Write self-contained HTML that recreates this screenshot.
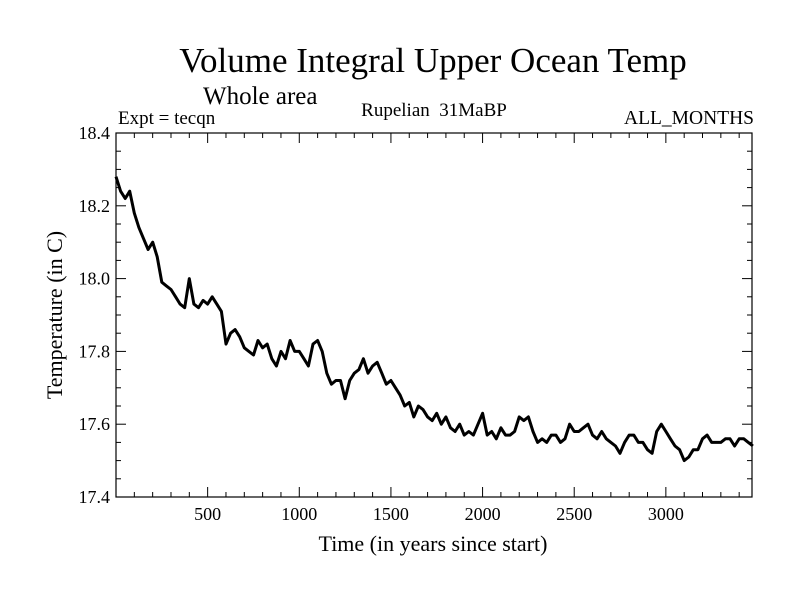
<!DOCTYPE html>
<html><head><meta charset="utf-8"><style>
body{margin:0;background:#fff}
svg{display:block;font-family:"Liberation Serif",serif}
</style></head><body>
<svg id="chart" width="800" height="600" viewBox="0 0 800 600">
<text x="433" y="72" font-size="35" text-anchor="middle">Volume Integral Upper Ocean Temp</text>
<text x="203" y="104" font-size="25">Whole area</text>
<text x="118" y="124" font-size="19">Expt = tecqn</text>
<text x="434" y="116" font-size="19" text-anchor="middle" xml:space="preserve">Rupelian  31MaBP</text>
<text x="754" y="124" font-size="19.5" text-anchor="end">ALL_MONTHS</text>
<text x="433" y="551" font-size="22" text-anchor="middle">Time (in years since start)</text>
<text transform="translate(62,315) rotate(-90)" font-size="22" text-anchor="middle">Temperature (in C)</text>
<g id="axes"></g>
<rect x="116" y="133" width="636" height="364" fill="none" stroke="#000" stroke-width="1.2"/>
</svg>
<script>
const years=[0,25,50,75,100,125,150,175,200,225,250,275,300,325,350,375,400,425,450,475,500,525,550,575,600,625,650,675,700,725,750,775,800,825,850,875,900,925,950,975,1000,1025,1050,1075,1100,1125,1150,1175,1200,1225,1250,1275,1300,1325,1350,1375,1400,1425,1450,1475,1500,1525,1550,1575,1600,1625,1650,1675,1700,1725,1750,1775,1800,1825,1850,1875,1900,1925,1950,1975,2000,2025,2050,2075,2100,2125,2150,2175,2200,2225,2250,2275,2300,2325,2350,2375,2400,2425,2450,2475,2500,2525,2550,2575,2600,2625,2650,2675,2700,2725,2750,2775,2800,2825,2850,2875,2900,2925,2950,2975,3000,3025,3050,3075,3100,3125,3150,3175,3200,3225,3250,3275,3300,3325,3350,3375,3400,3425,3450,3475];
const temps=[18.28,18.24,18.22,18.24,18.18,18.14,18.11,18.08,18.10,18.06,17.99,17.98,17.97,17.95,17.93,17.92,18.00,17.93,17.92,17.94,17.93,17.95,17.93,17.91,17.82,17.85,17.86,17.84,17.81,17.80,17.79,17.83,17.81,17.82,17.78,17.76,17.80,17.78,17.83,17.80,17.80,17.78,17.76,17.82,17.83,17.80,17.74,17.71,17.72,17.72,17.67,17.72,17.74,17.75,17.78,17.74,17.76,17.77,17.74,17.71,17.72,17.70,17.68,17.65,17.66,17.62,17.65,17.64,17.62,17.61,17.63,17.60,17.62,17.59,17.58,17.60,17.57,17.58,17.57,17.60,17.63,17.57,17.58,17.56,17.59,17.57,17.57,17.58,17.62,17.61,17.62,17.58,17.55,17.56,17.55,17.57,17.57,17.55,17.56,17.60,17.58,17.58,17.59,17.60,17.57,17.56,17.58,17.56,17.55,17.54,17.52,17.55,17.57,17.57,17.55,17.55,17.53,17.52,17.58,17.60,17.58,17.56,17.54,17.53,17.50,17.51,17.53,17.53,17.56,17.57,17.55,17.55,17.55,17.56,17.56,17.54,17.56,17.56,17.55,17.54];
const xTicks=[500,1000,1500,2000,2500,3000];
const yTicks=[17.4,17.6,17.8,18.0,18.2,18.4];
const X0=116,X1=752,Y0=133,Y1=497,XMIN=0,XMAX=3470,YMIN=17.4,YMAX=18.4;
const xs=v=>X0+(v-XMIN)/(XMAX-XMIN)*(X1-X0);
const ys=v=>Y1-(v-YMIN)/(YMAX-YMIN)*(Y1-Y0);
const NS='http://www.w3.org/2000/svg';
const g=document.getElementById('axes');
function ln(x1,y1,x2,y2,name){const l=document.createElementNS(NS,'line');l.setAttribute('x1',x1);l.setAttribute('y1',y1);l.setAttribute('x2',x2);l.setAttribute('y2',y2);l.setAttribute('stroke','#000');l.setAttribute('stroke-width','1');


g.appendChild(l);}
for(let v=100;v<XMAX;v+=100){const x=xs(v),L=v%500===0?10:5;ln(x,Y1,x,Y1-L,'x-tick');ln(x,Y0,x,Y0+L,'x-tick-top');}
for(let i=0;i<=20;i++){const v=YMIN+i*0.05,y=ys(v),L=i%4===0?10:5;ln(X0,y,X0+L,y,'y-tick');ln(X1,y,X1-L,y,'y-tick-right');}
xTicks.forEach(v=>{const t=document.createElementNS(NS,'text');t.setAttribute('x',xs(v));t.setAttribute('y',Y1+23);t.setAttribute('font-size','18');t.setAttribute('text-anchor','middle');t.textContent=v;


g.appendChild(t);});
yTicks.forEach(v=>{const t=document.createElementNS(NS,'text');t.setAttribute('x',X0-6);t.setAttribute('y',ys(v)+6);t.setAttribute('font-size','18');t.setAttribute('text-anchor','end');t.textContent=v.toFixed(1);


g.appendChild(t);});
const p=document.createElementNS(NS,'path');
p.setAttribute('d',years.map((y,i)=>(i?'L':'M')+xs(y).toFixed(1)+' '+ys(temps[i]).toFixed(1)).join(''));
p.setAttribute('fill','none');p.setAttribute('stroke','#000');p.setAttribute('stroke-width','3');p.setAttribute('stroke-linejoin','round');


g.appendChild(p);
</script>
</body></html>
